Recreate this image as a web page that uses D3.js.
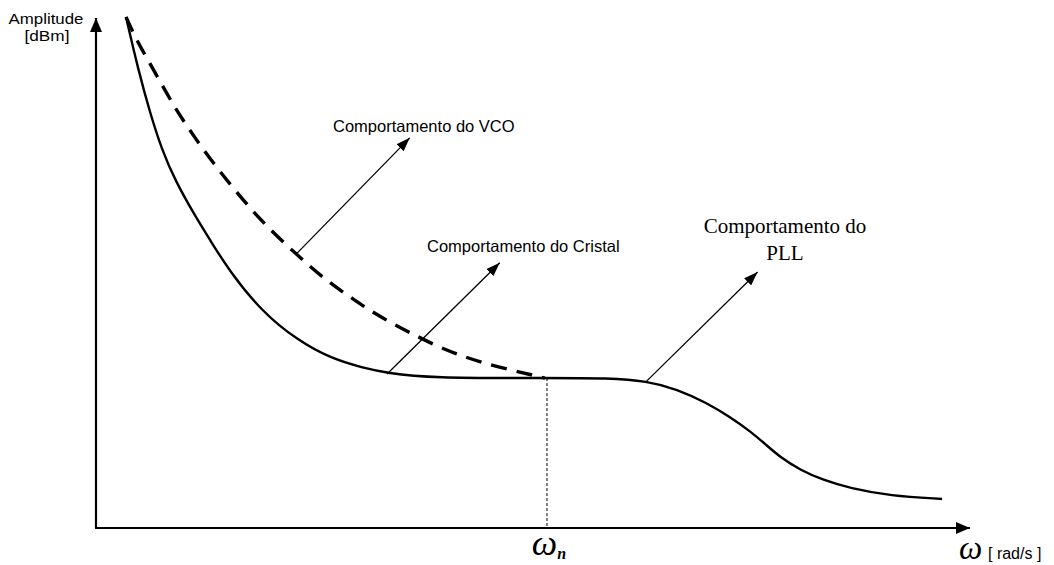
<!DOCTYPE html>
<html>
<head>
<meta charset="utf-8">
<script src="https://cdn.jsdelivr.net/npm/d3@7/dist/d3.min.js"></script>
<style>
html,body{margin:0;padding:0;background:#fff;}
svg{display:block;}
</style>
</head>
<body>
<svg id="chart" width="1054" height="565"></svg>
<script>
// ---- data (arbitrary units: x 0..100, y 0..100) ----
const pllCurve = [
  [3.43,100.2],[4.81,90.0],[6.18,81.4],[7.55,74.1],[9.04,68.2],[11.33,61.2],
  [13.04,56.5],[15.33,50.2],[19.11,42.2],[23.0,36.9],[26.77,33.3],[30.55,31.4],
  [33.3,30.4],[38.2,29.4],[51.6,29.4],[58.8,29.4],[63.0,28.8],[66.48,27.25],
  [69.91,24.5],[72.54,21.76],[74.83,19.0],[76.54,16.5],[78.26,13.9],[80.55,11.4],
  [83.18,9.4],[86.27,7.8],[90.85,6.3],[96.8,5.7]
];
const vcoCurve = [
  [3.43,100.2],[4.81,95.1],[5.95,91.8],[7.67,86.5],[9.38,81.4],[11.33,76.5],
  [13.39,71.6],[15.68,66.7],[18.76,60.4],[23.0,53.5],[26.43,48.4],[29.41,44.9],
  [32.27,41.6],[35.58,38.6],[39.36,35.3],[43.94,32.4],[51.37,29.4]
];
const omegaN = 51.6;
const plateau = 29.4;
const annotations = [
  {from:[22.9,53.7], to:[35.9,76.5]},
  {from:[33.3,30.2], to:[46.2,52.0]},
  {from:[63.0,28.8], to:[75.7,50.2]}
];
const yAxisLabel = ["Amplitude","[dBm]"];
const xAxisUnit = "[ rad/s ]";

// ---- scales ----
const svg = d3.select("#chart");
const x = d3.scaleLinear().domain([0,100]).range([96,970]);
const y = d3.scaleLinear().domain([0,100]).range([528,18]);

const defs = svg.append("defs");
defs.append("marker").attr("id","axisHead").attr("viewBox","0 0 14 12")
  .attr("refX",14).attr("refY",6).attr("markerWidth",14).attr("markerHeight",12)
  .attr("markerUnits","userSpaceOnUse").attr("orient","auto")
  .append("path").attr("d","M0,0 L14,6 L0,12 Z").attr("fill","#000");
defs.append("marker").attr("id","annHead").attr("viewBox","0 0 14 10")
  .attr("refX",14).attr("refY",5).attr("markerWidth",14).attr("markerHeight",10)
  .attr("markerUnits","userSpaceOnUse").attr("orient","auto")
  .append("path").attr("d","M0,0 L14,5 L0,10 Z").attr("fill","#000");

// axes
svg.append("line").attr("x1",x(0)).attr("y1",y(0)).attr("x2",x(0)).attr("y2",y(100))
  .attr("stroke","#000").attr("stroke-width",2.2).attr("marker-end","url(#axisHead)");
svg.append("line").attr("x1",x(0)-1).attr("y1",y(0)).attr("x2",x(100)).attr("y2",y(0))
  .attr("stroke","#000").attr("stroke-width",2.2).attr("marker-end","url(#axisHead)");

// omega_n dotted marker
svg.append("line").attr("x1",x(omegaN)).attr("x2",x(omegaN)).attr("y1",y(plateau)).attr("y2",y(0))
  .attr("stroke","#000").attr("stroke-width",1).attr("stroke-dasharray","3,2");

// curves
const line = d3.line().x(d=>x(d[0])).y(d=>y(d[1])).curve(d3.curveBasis);
svg.append("path").attr("d",line(pllCurve)).attr("fill","none")
  .attr("stroke","#000").attr("stroke-width",2.4);
svg.append("path").attr("d",line(vcoCurve)).attr("fill","none")
  .attr("stroke","#000").attr("stroke-width",3.4).attr("stroke-dasharray","16,10");

// annotation arrows
svg.selectAll(".ann").data(annotations).enter().append("line")
  .attr("x1",d=>x(d.from[0])).attr("y1",d=>y(d.from[1]))
  .attr("x2",d=>x(d.to[0])).attr("y2",d=>y(d.to[1]))
  .attr("stroke","#000").attr("stroke-width",1.3).attr("marker-end","url(#annHead)");

// labels
const sans = "Liberation Sans, Arial, sans-serif";
const serif = "Liberation Serif, Times New Roman, serif";
svg.append("text").attr("x",333).attr("y",132)
  .attr("font-family",sans).attr("font-size",16.5).text("Comportamento do VCO");
svg.append("text").attr("x",427).attr("y",252)
  .attr("font-family",sans).attr("font-size",16.5).text("Comportamento do Cristal");
svg.append("text").attr("x",785).attr("y",233).attr("text-anchor","middle")
  .attr("font-family",serif).attr("font-size",21).text("Comportamento do");
svg.append("text").attr("x",785).attr("y",260).attr("text-anchor","middle")
  .attr("font-family",serif).attr("font-size",21).text("PLL");

svg.append("text").attr("x",46).attr("y",24).attr("text-anchor","middle")
  .attr("font-family",sans).attr("font-size",15).attr("textLength",75)
  .attr("lengthAdjust","spacingAndGlyphs").text(yAxisLabel[0]);
svg.append("text").attr("x",47).attr("y",41).attr("text-anchor","middle")
  .attr("font-family",sans).attr("font-size",15).attr("textLength",45)
  .attr("lengthAdjust","spacingAndGlyphs").text(yAxisLabel[1]);

const wn = svg.append("text").attr("x",x(omegaN)+2).attr("y",555).attr("text-anchor","middle")
  .attr("font-family",serif).attr("font-style","italic").attr("font-size",36);
wn.append("tspan").text("ω");
wn.append("tspan").attr("font-size",16).attr("dy",4).attr("font-weight","bold").text("n");

svg.append("text").attr("x",959).attr("y",559)
  .attr("font-family",serif).attr("font-style","italic").attr("font-size",33).text("ω");
svg.append("text").attr("x",988).attr("y",559)
  .attr("font-family",sans).attr("font-size",16).text(xAxisUnit);
</script>
</body>
</html>
